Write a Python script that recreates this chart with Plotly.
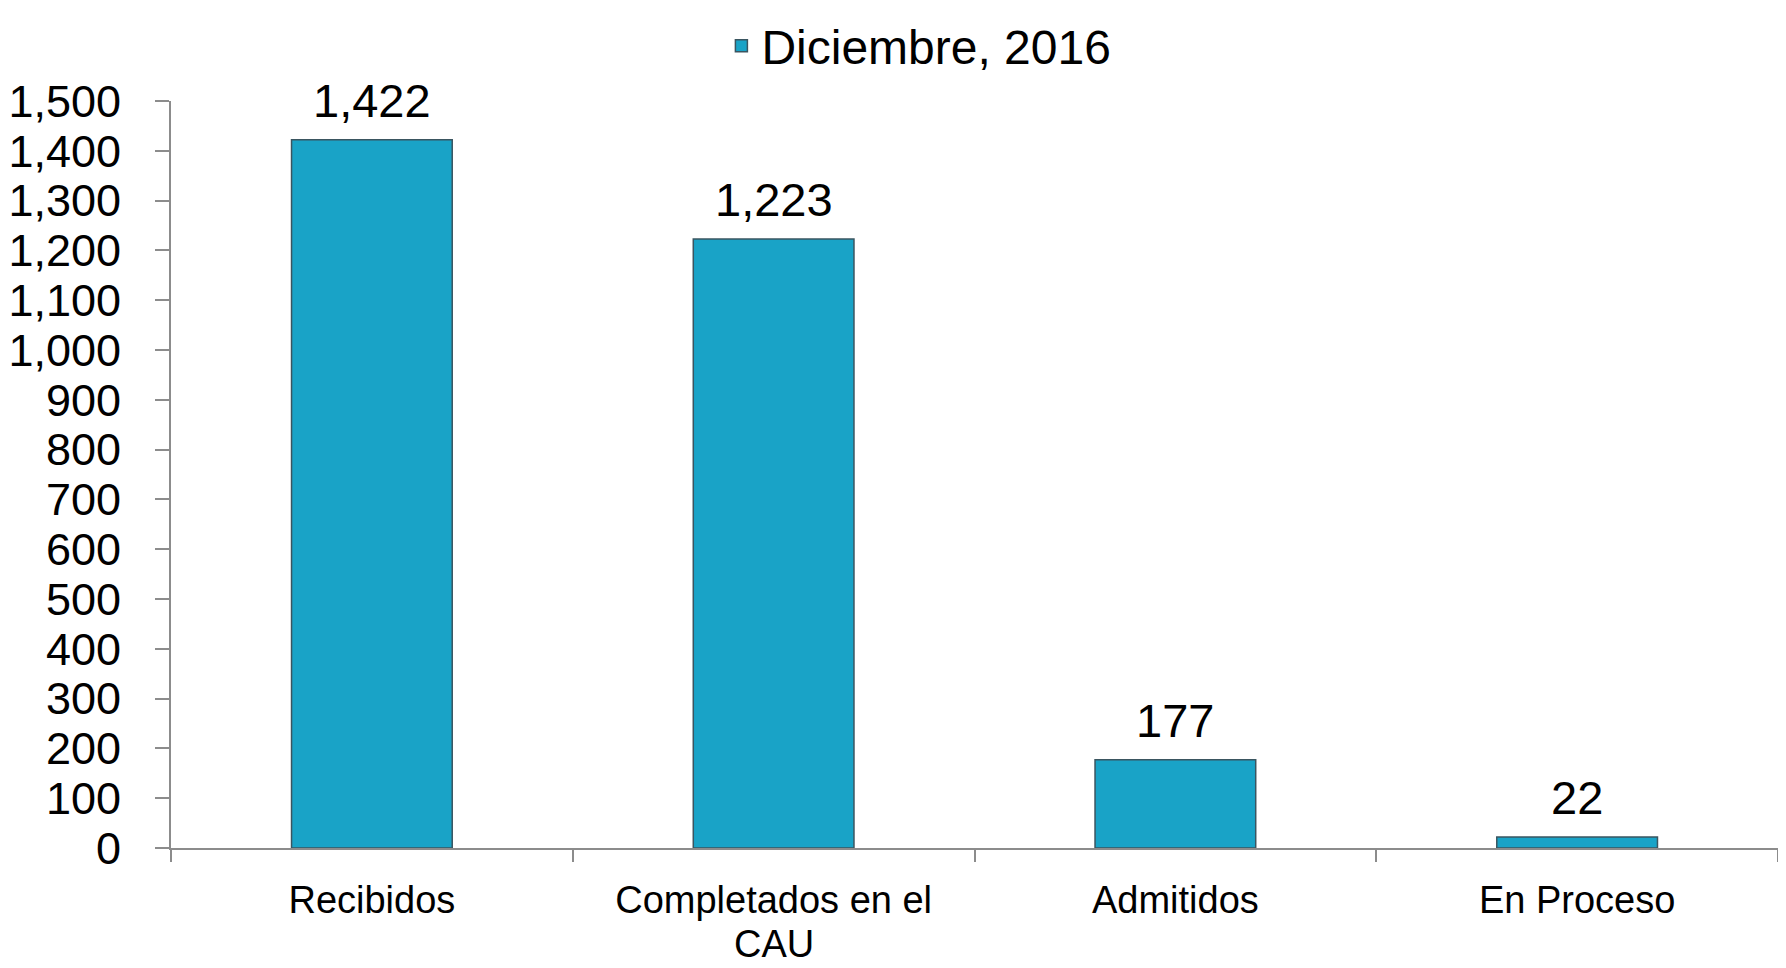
import plotly.graph_objects as go

categories = ["Recibidos", "Completados en el CAU", "Admitidos", "En Proceso"]
label_line1 = ["Recibidos", "Completados en el", "Admitidos", "En Proceso"]
label_line2 = ["", "CAU", "", ""]
values = [1422, 1223, 177, 22]
series_name = "Diciembre, 2016"
y_ticks = list(range(0, 1501, 100))

FONT = "Liberation Sans, Arial, sans-serif"

fig = go.Figure()
fig.add_trace(go.Bar(
    x=categories,
    y=values,
    name=series_name,
    marker=dict(color="#19A3C7", line=dict(color="#3A5560", width=1.5)),
    showlegend=True,
    hoverinfo="x+y",
))

for c, v in zip(categories, values):
    fig.add_annotation(
        x=c, y=v, xref="x", yref="y",
        text=f"{v:,}",
        showarrow=False,
        yanchor="bottom",
        yshift=11,
        font=dict(family=FONT, size=47, color="#000000"),
    )

for c, t in zip(categories, label_line2):
    if t:
        fig.add_annotation(
            x=c, y=-0.1593, xref="x", yref="paper",
            text=t, showarrow=False, yanchor="bottom",
            font=dict(family=FONT, size=38, color="#000000"),
        )

fig.update_layout(
    width=1786,
    height=968,
    margin=dict(l=163, r=16, t=93, b=128, autoexpand=False),
    paper_bgcolor="white",
    plot_bgcolor="white",
    bargap=0.6,
    font=dict(family=FONT, color="#000000"),
    showlegend=True,
    legend=dict(
        orientation="h",
        x=0.3425, xanchor="left",
        y=1.1245, yanchor="top",
        font=dict(family=FONT, size=48, color="#000000"),
        bgcolor="rgba(0,0,0,0)",
    ),
    xaxis=dict(
        type="category",
        automargin=False,
        tickmode="array",
        tickvals=categories,
        ticktext=label_line1,
        showline=True, linecolor="#8C8C8C", linewidth=2,
        ticks="outside", tickson="boundaries", ticklen=12,
        tickcolor="#8C8C8C", tickwidth=2,
        tickfont=dict(family=FONT, size=38, color="#000000"),
        ticklabelstandoff=17,
        showgrid=False, zeroline=False,
    ),
    yaxis=dict(
        automargin=False,
        range=[0, 1500],
        tickvals=y_ticks,
        tickformat=",",
        showline=True, linecolor="#8C8C8C", linewidth=2,
        ticks="outside", ticklen=14, tickcolor="#8C8C8C", tickwidth=2,
        tickfont=dict(family=FONT, size=45, color="#000000"),
        ticklabelstandoff=25,
        showgrid=False, zeroline=False,
    ),
)

fig.write_html("out.html")
